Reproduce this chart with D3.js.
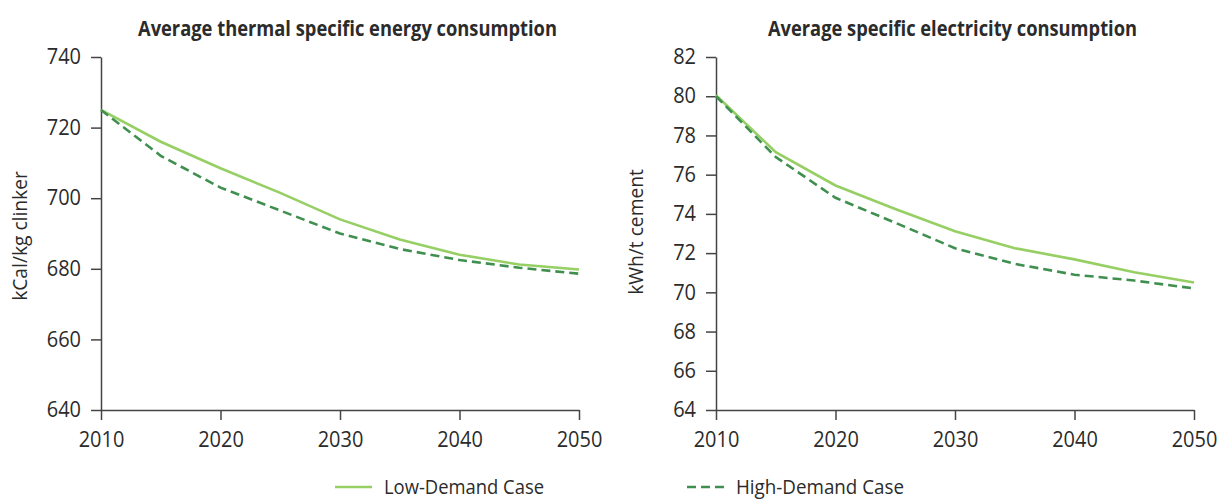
<!DOCTYPE html>
<html>
<head>
<meta charset="utf-8">
<script src="https://cdnjs.cloudflare.com/ajax/libs/d3/7.8.5/d3.min.js"></script>
<style>
  body { margin: 0; background: #fff; }
  svg { display: block; font-family: "Open Sans", "Noto Sans", sans-serif; }
</style>
</head>
<body>
<svg id="chart" width="1220" height="499"></svg>
<script>
const years = [2010, 2015, 2020, 2025, 2030, 2035, 2040, 2045, 2050];
const yearTicks = [2010, 2020, 2030, 2040, 2050];

const thermalLow  = [725, 716, 708.5, 701.5, 694, 688.3, 684, 681.2, 679.8];
const thermalHigh = [725, 712, 703, 696.5, 690, 685.6, 682.5, 680.3, 678.6];
const thermalTicks = [640, 660, 680, 700, 720, 740];

const elecLow  = [80.05, 77.15, 75.45, 74.25, 73.12, 72.25, 71.68, 71.02, 70.5];
const elecHigh = [80.0, 76.9, 74.82, 73.55, 72.25, 71.45, 70.9, 70.6, 70.2];
const elecTicks = [64, 66, 68, 70, 72, 74, 76, 78, 80, 82];

const seriesNames = ["Low-Demand Case", "High-Demand Case"];

const lowColor = "#96cf64";
const highColor = "#3f8f4f";
const axisColor = "#444";
const textColor = "#2b2b2b";
const fontFam = '"Open Sans", "Noto Sans", sans-serif';

const svg = d3.select("#chart");

// squeeze text a bit so the narrow original face is approximated
function condense(sel, k) {
  sel.each(function() {
    const w = this.getComputedTextLength();
    d3.select(this).attr("textLength", w * k).attr("lengthAdjust", "spacingAndGlyphs");
  });
}

const panel = (opts) => {
  const x = d3.scaleLinear().domain([2010, 2050]).range([opts.x0, opts.x1]);
  const y = d3.scaleLinear().domain(d3.extent(opts.ticks)).range([410, 57]);

  const g = svg.append("g");

  const yAxis = g.append("g")
      .attr("transform", `translate(${opts.x0},0)`)
      .call(d3.axisLeft(y).tickValues(opts.ticks).tickSize(10).tickSizeOuter(0).tickPadding(10));
  const xAxis = g.append("g")
      .attr("transform", "translate(0,410)")
      .call(d3.axisBottom(x).tickValues(yearTicks).tickFormat(d3.format("d")).tickSize(10).tickSizeOuter(0).tickPadding(12));

  [yAxis, xAxis].forEach(a => {
    a.attr("font-family", fontFam).attr("font-size", 21);
    a.select(".domain").attr("stroke", axisColor).attr("stroke-width", 1.5);
    a.selectAll(".tick line").attr("stroke", axisColor).attr("stroke-width", 1.5);
    a.selectAll(".tick text").attr("fill", textColor);
    condense(a.selectAll(".tick text"), 0.95);
  });

  const line = d3.line()
      .x((d, i) => x(years[i]))
      .y(d => y(d));

  g.append("path")
      .datum(opts.low)
      .attr("fill", "none")
      .attr("stroke", lowColor)
      .attr("stroke-width", 2.6)
      .attr("d", line);

  g.append("path")
      .datum(opts.high)
      .attr("fill", "none")
      .attr("stroke", highColor)
      .attr("stroke-width", 2.6)
      .attr("stroke-dasharray", "9,5")
      .attr("d", line);

  g.append("text")
      .attr("x", opts.titleX)
      .attr("y", 36)
      .attr("text-anchor", "middle")
      .attr("fill", textColor)
      .style("font-size", "21px")
      .style("font-weight", 700)
      .attr("textLength", opts.titleW)
      .attr("lengthAdjust", "spacingAndGlyphs")
      .text(opts.title);

  const yl = g.append("text")
      .attr("transform", `translate(${opts.labelX},${opts.labelY}) rotate(-90)`)
      .attr("text-anchor", "middle")
      .attr("fill", textColor)
      .style("font-size", "20px")
      .text(opts.yLabel);
  condense(yl, 0.96);
};

panel({
  x0: 101, x1: 579, ticks: thermalTicks, low: thermalLow, high: thermalHigh,
  title: "Average thermal specific energy consumption", titleX: 347.5, titleW: 419,
  yLabel: "kCal/kg clinker", labelX: 27, labelY: 236
});

panel({
  x0: 716, x1: 1194, ticks: elecTicks, low: elecLow, high: elecHigh,
  title: "Average specific electricity consumption", titleX: 952.5, titleW: 369,
  yLabel: "kWh/t cement", labelX: 643, labelY: 232
});

// legend
const legend = [
  { name: seriesNames[0], color: lowColor, dash: null, x: 335, w: 160 },
  { name: seriesNames[1], color: highColor, dash: "9,5", x: 687, w: 168 }
];

const lg = svg.append("g").selectAll("g").data(legend).enter().append("g")
    .attr("transform", d => `translate(${d.x},487)`);

lg.append("line")
    .attr("x1", 0).attr("x2", 37)
    .attr("stroke", d => d.color)
    .attr("stroke-width", 2.6)
    .attr("stroke-dasharray", d => d.dash);

lg.append("text")
    .attr("x", 49)
    .attr("y", 7)
    .attr("fill", textColor)
    .style("font-size", "20px")
    .attr("textLength", d => d.w)
    .attr("lengthAdjust", "spacingAndGlyphs")
    .text(d => d.name);
</script>
</body>
</html>
